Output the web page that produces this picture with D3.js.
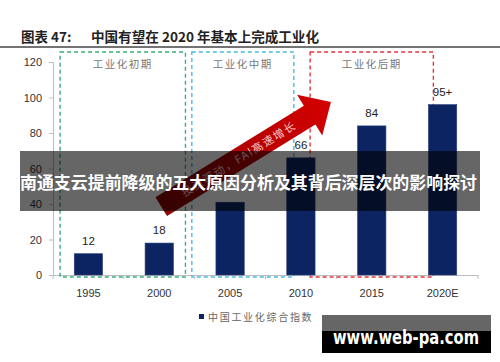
<!DOCTYPE html>
<html>
<head>
<meta charset="utf-8">
<script src="https://cdn.jsdelivr.net/npm/d3@7"></script>
<style>
	body { margin: 0; background: #fff; }
	svg { display: block; font-family: "Noto Sans CJK SC", "Liberation Sans", sans-serif; }
</style>
</head>
<body>
<div id="chart"></div>
<script>

// data
const years = ["1995", "2000", "2005", "2010", "2015", "2020E"];
const values = [12, 18, 41, 66, 84, 96];
const valueLabels = ["12", "18", null, "66", "84", "95+"];
const yTicks = [0, 20, 40, 60, 80, 100, 120];
const phases = ["工业化初期", "工业化中期", "工业化后期"];
const phaseColors = ["#3aad78", "#4cbbe0", "#e8333c"];
const legendLabel = "中国工业化综合指数";
const arrowLabel = "投资驱动，FAI高速增长";

const width = 500;
const height = 362;

let svg = d3.select("#chart")
	.append("svg")
	.attr("width", width)
	.attr("height", height);

let defs = svg.append("defs");

let x = d3.scaleBand()
	.domain(years)
	.range([53, 478])
	.paddingInner(0.6)
	.paddingOuter(0.3);

let y = d3.scaleLinear()
	.domain([0, 120])
	.range([275, 62]);

const step = x.step();
const xc = d => x(d) + x.bandwidth() / 2;

//Title
svg.append("text")
	.attr("x", 21)
	.attr("y", 42)
	.attr("font-size", 13.5)
	.attr("font-weight", "bold")
	.attr("fill", "#222")
	.text("图表 47:");

svg.append("text")
	.attr("x", 91)
	.attr("y", 42)
	.attr("font-size", 13.5)
	.attr("font-weight", "bold")
	.attr("fill", "#222")
	.attr("textLength", 228)
	.attr("lengthAdjust", "spacingAndGlyphs")
	.text("中国有望在 2020 年基本上完成工业化");

svg.append("line")
	.attr("x1", 0)
	.attr("x2", width)
	.attr("y1", 47)
	.attr("y2", 47)
	.attr("stroke", "#444")
	.attr("stroke-width", 1.5);

//Axes
let yAxis = svg.append("g")
	.attr("transform", "translate(53,0)")
	.call(d3.axisLeft(y).tickValues(yTicks).tickSize(4).tickPadding(7));

let xAxis = svg.append("g")
	.attr("transform", "translate(0,275)")
	.call(d3.axisBottom(x).tickSize(0).tickPadding(14));

[yAxis, xAxis].forEach(g => {
	g.select(".domain").attr("stroke", "#bdbdbd");
	g.selectAll(".tick line").attr("stroke", "#bdbdbd");
	g.selectAll(".tick text")
		.attr("fill", "#333")
		.attr("font-size", 11)
		.attr("font-family", "'Liberation Sans', sans-serif");
});

// category boundary ticks
xAxis.selectAll(".sep")
	.data(d3.range(years.length + 1))
	.enter()
	.append("line")
	.attr("x1", i => x.range()[0] + i * step)
	.attr("x2", i => x.range()[0] + i * step)
	.attr("y1", 0)
	.attr("y2", 4)
	.attr("stroke", "#bdbdbd");

//Phase boxes
const boxes = [
	{ x0: xc("1995") - 0.4 * step, x1: xc("2000") + 0.37 * step },
	{ x0: xc("2005") - 0.54 * step, x1: xc("2010") - 0.1 * step },
	{ x0: xc("2010") + 0.13 * step, x1: xc("2020E") - 0.13 * step }
];

let phaseG = svg.append("g").attr("class", "phases");

phaseG.selectAll("rect")
	.data(boxes)
	.enter()
	.append("rect")
	.attr("x", d => d.x0)
	.attr("y", 52)
	.attr("width", d => d.x1 - d.x0)
	.attr("height", 225)
	.attr("fill", "none")
	.attr("stroke", (d, i) => phaseColors[i])
	.attr("stroke-width", 1.4)
	.attr("stroke-dasharray", "4,3");

phaseG.selectAll("text")
	.data(boxes)
	.enter()
	.append("text")
	.attr("x", d => (d.x0 + d.x1) / 2)
	.attr("y", 68)
	.attr("text-anchor", "middle")
	.attr("font-size", 10.5)
	.attr("letter-spacing", 1.5)
	.attr("fill", "#777")
	.text((d, i) => phases[i]);

//Bars
svg.append("g")
	.selectAll("rect")
	.data(values)
	.enter()
	.append("rect")
	.attr("x", (d, i) => x(years[i]))
	.attr("y", d => y(d))
	.attr("width", x.bandwidth())
	.attr("height", d => y(0) - y(d))
	.attr("fill", "#0d2463")
	.attr("stroke", "#2c4080")
	.attr("stroke-width", 0.6);

svg.append("g")
	.selectAll("text")
	.data(values)
	.enter()
	.append("text")
	.attr("x", (d, i) => xc(years[i]))
	.attr("y", d => y(d) - 9)
	.attr("text-anchor", "middle")
	.attr("font-size", 11.5)
	.attr("font-family", "'Liberation Sans', sans-serif")
	.attr("fill", "#222")
	.text((d, i) => valueLabels[i]);

//Arrow
const tail = [xc("2000") + 2, y(38.5)];
const tip = [xc("2010") + 30, y(97.5)];
const dx = tip[0] - tail[0];
const dy = tip[1] - tail[1];
const len = Math.sqrt(dx * dx + dy * dy);
const angle = Math.atan2(dy, dx) * 180 / Math.PI;
const headLen = 25;
const shaftHalf = 11;
const headHalf = 24;

let grad = defs.append("linearGradient")
	.attr("id", "arrowGrad")
	.attr("x1", 0).attr("x2", 1).attr("y1", 0).attr("y2", 0);
grad.append("stop").attr("offset", "0%").attr("stop-color", "#8a0606");
grad.append("stop").attr("offset", "55%").attr("stop-color", "#b80000");
grad.append("stop").attr("offset", "100%").attr("stop-color", "#d40000");

let arrow = svg.append("g")
	.attr("transform", "translate(" + tail[0] + "," + tail[1] + ") rotate(" + angle + ")");

const pts = [
	[0, -shaftHalf],
	[len - headLen, -shaftHalf],
	[len - headLen, -headHalf],
	[len, 0],
	[len - headLen, headHalf],
	[len - headLen, shaftHalf],
	[0, shaftHalf]
];

arrow.append("polygon")
	.attr("points", pts.map(p => p.join(",")).join(" "))
	.attr("fill", "url(#arrowGrad)");

arrow.append("text")
	.attr("x", (len - headLen) / 2 + 4)
	.attr("y", 4)
	.attr("text-anchor", "middle")
	.attr("font-size", 11)
	.attr("letter-spacing", 1.5)
	.attr("fill", "#f6caca")
	.text(arrowLabel);

//Legend
svg.append("rect")
	.attr("x", 199)
	.attr("y", 314)
	.attr("width", 5)
	.attr("height", 5)
	.attr("fill", "#0d2463");

svg.append("text")
	.attr("x", 208)
	.attr("y", 321)
	.attr("font-size", 10)
	.attr("letter-spacing", 1.7)
	.attr("fill", "#666")
	.text(legendLabel);

//Overlay banner
svg.append("rect")
	.attr("x", 20)
	.attr("y", 151)
	.attr("width", 460)
	.attr("height", 60)
	.attr("fill", "rgba(0,0,0,0.6)");

svg.append("text")
	.attr("x", 20)
	.attr("y", 189)
	.attr("font-size", 17)
	.attr("font-weight", "bold")
	.attr("fill", "#fff")
	.attr("textLength", 457)
	.attr("lengthAdjust", "spacingAndGlyphs")
	.text("南通支云提前降级的五大原因分析及其背后深层次的影响探讨");

//Watermark
svg.append("rect")
	.attr("x", 322)
	.attr("y", 315)
	.attr("width", 169)
	.attr("height", 38)
	.attr("fill", "#000");

svg.append("rect")
	.attr("x", 322)
	.attr("y", 315)
	.attr("width", 169)
	.attr("height", 16)
	.attr("fill", "#666");

svg.append("text")
	.attr("x", 333)
	.attr("y", 344)
	.attr("font-size", 20)
	.attr("font-weight", "bold")
	.attr("font-family", "'DejaVu Sans', sans-serif")
	.attr("fill", "#fff")
	.attr("textLength", 146)
	.attr("lengthAdjust", "spacingAndGlyphs")
	.text("www.web-pa.com");

</script>
</body>
</html>
